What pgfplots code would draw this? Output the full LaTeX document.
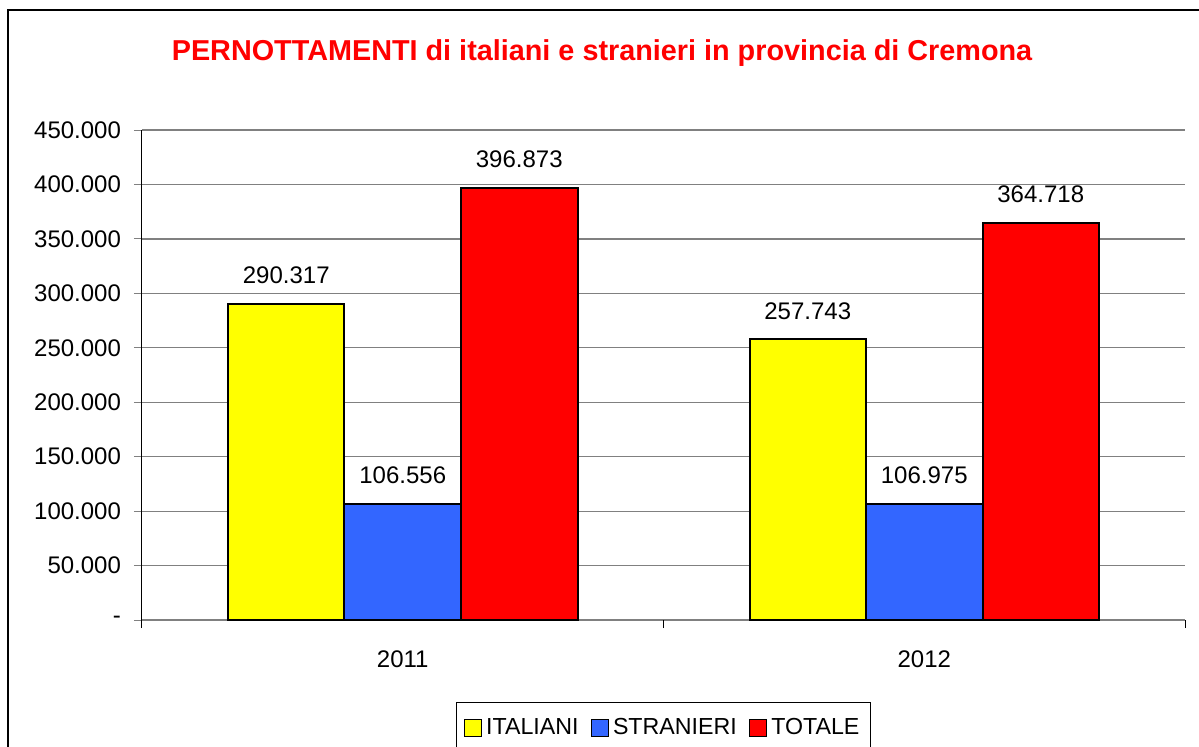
\documentclass[border=0pt]{standalone}
\usepackage{pgfplots}
\pgfplotsset{compat=1.18}
\usepackage{fontspec}
\setmainfont{Liberation Sans}
\definecolor{itayellow}{RGB}{255,255,0}
\definecolor{strblue}{RGB}{51,102,255}
\definecolor{totred}{RGB}{255,0,0}
\definecolor{gridgray}{RGB}{128,128,128}
\newcommand{\lblfont}{\fontsize{12}{14}\selectfont}
\pgfplotsset{
  sq/.style={legend image code/.code={%
    \draw[##1, draw=black, line width=0.75pt] (0pt,-4.25pt) rectangle (8.5pt,4.25pt);}},
}
\begin{document}
\begin{tikzpicture}
\begin{axis}[
  at={(0,0)}, anchor=south west,
  scale only axis, width=521.5pt, height=245pt,
  xmin=-0.5, xmax=1.5, ymin=0, ymax=450000,
  ybar, bar width=0.2234,
  axis x line=bottom, axis y line=left,
  x axis line style={-, gridgray, line width=0.75pt},
  y axis line style={-, black, line width=0.5pt},
  xtick={0,1}, xticklabels={2011,2012},
  xtick style={draw=none},
  extra x ticks={-0.5,0.5,1.5}, extra x tick labels={},
  extra x tick style={xtick style={draw=black, line width=0.5pt}, grid=none},
  ytick={0,50000,100000,150000,200000,250000,300000,350000,400000,450000},
  yticklabels={-,50.000,100.000,150.000,200.000,250.000,300.000,350.000,400.000,450.000},
  scaled y ticks=false,
  tick align=outside, major tick length=4pt,
  ytick style={gridgray, line width=0.5pt},
  ymajorgrids, grid style={gridgray, line width=0.6pt},
  ticklabel style={font=\lblfont},
  yticklabel style={xshift=-3pt},
  xticklabel style={yshift=-8pt},
  point meta=explicit symbolic,
  nodes near coords,
  every node near coord/.append style={font=\lblfont, anchor=base, yshift=10pt, inner sep=0pt},
  legend columns=3,
  legend style={at={(0.5,0)}, anchor=north, yshift=-41pt, draw=black,
    line width=0.5pt, inner xsep=3.5pt, inner ysep=6pt,
    font=\fontsize{11.6}{14}\selectfont,
    /tikz/every even column/.append style={column sep=4pt}},
]
\addplot[fill=itayellow, draw=black, line width=1pt, bar shift=-0.2234, sq]
  coordinates {(0,290317)[290.317] (1,257743)[257.743]};
\addplot[fill=strblue, draw=black, line width=1pt, bar shift=0, sq]
  coordinates {(0,106556)[106.556] (1,106975)[106.975]};
\addplot[fill=totred, draw=black, line width=1pt, bar shift=0.2234, sq]
  coordinates {(0,396873)[396.873] (1,364718)[364.718]};
\legend{ITALIANI,STRANIERI,TOTALE}
\end{axis}
\node[anchor=base, text=totred, font=\bfseries\fontsize{14.4}{17}\selectfont]
  at (230pt,280pt) {PERNOTTAMENTI di italiani e stranieri in provincia di Cremona};
\draw[black, line width=0.75pt] (-67pt,-90pt) rectangle (560pt,305pt);
\pgfresetboundingbox
\path[use as bounding box] (-71pt,-63pt) rectangle (528.5pt,310pt);
\end{tikzpicture}
\end{document}
